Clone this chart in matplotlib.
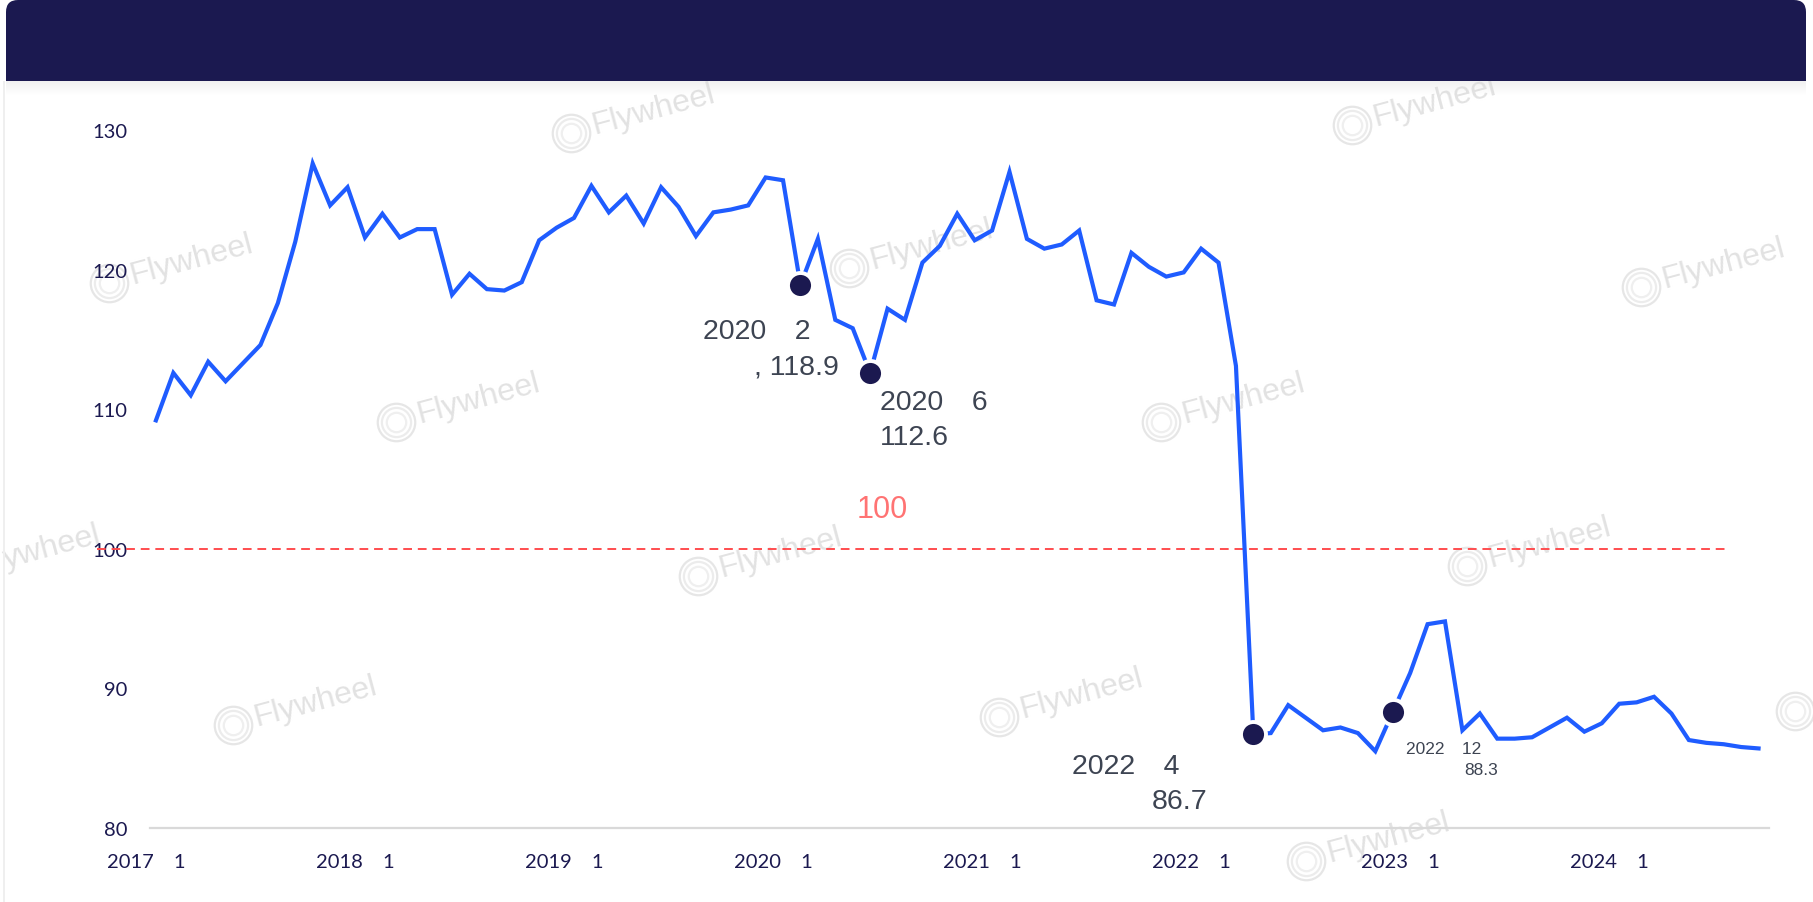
import matplotlib
matplotlib.use("Agg")
from matplotlib import pyplot as plt
from matplotlib.patches import FancyBboxPatch, Rectangle
from matplotlib.transforms import IdentityTransform

# monthly index, 2017-01 .. 2024-09
values = [109.2, 112.6, 111.0, 113.4, 112.0, 113.3, 114.6, 117.6, 122.0, 127.6,
          124.6, 125.9, 122.3, 124.0, 122.3, 122.9, 122.9, 118.2, 119.7, 118.6,
          118.5, 119.1, 122.1, 123.0, 123.7, 126.0, 124.1, 125.3, 123.3, 125.9,
          124.5, 122.4, 124.1, 124.3, 124.6, 126.6, 126.4, 118.9, 122.2, 116.4,
          115.8, 112.6, 117.2, 116.4, 120.5, 121.7, 124.0, 122.1, 122.8, 127.0,
          122.2, 121.5, 121.8, 122.8, 117.8, 117.5, 121.2, 120.2, 119.5, 119.8,
          121.5, 120.5, 113.1, 86.7, 86.8, 88.8, 87.9, 87.0, 87.2, 86.8,
          85.5, 88.3, 91.1, 94.6, 94.8, 87.0, 88.2, 86.4, 86.4, 86.5,
          87.2, 87.9, 86.9, 87.5, 88.9, 89.0, 89.4, 88.2, 86.3, 86.1,
          86.0, 85.8, 85.7]
x = list(range(len(values)))

tick_idx = [0, 12, 24, 36, 48, 60, 72, 84]
tick_labels = ["2017\u30001\u3000", "2018\u30001\u3000", "2019\u30001\u3000",
               "2020\u30001\u3000", "2021\u30001\u3000", "2022\u30001\u3000",
               "2023\u30001\u3000", "2024\u30001\u3000"]
y_ticks = [80, 90, 100, 110, 120, 130]
ref_value = 100

# highlighted months and their two-line labels
mark_idx = [37, 41, 63, 71]
mark_line1 = ["2020\u30002\u3000", "2020\u30006\u3000", "2022\u30004\u3000", "2022\u300012\u3000"]
mark_line2 = [", 118.9", "112.6", "86.7", "88.3"]

NAVY = "#1b1950"
BLUE = "#1f5cff"
GREY_TXT = "#3d4452"
W, H = 1813, 903

plt.rcParams['font.family'] = ['Lato', 'Noto Sans CJK SC', 'DejaVu Sans']

fig = plt.figure(figsize=(W / 100, H / 100), dpi=100)
fig.patch.set_facecolor("white")

# header band with rounded top corners
fig.patches.append(FancyBboxPatch((6, H - 82), 1800, 81, boxstyle="round,pad=0,rounding_size=12",
                                  transform=IdentityTransform(), fc=NAVY, ec="none"))
fig.patches.append(Rectangle((6, H - 82), 1800, 40, transform=IdentityTransform(), fc=NAVY, ec="none"))
# soft shadow under the band
for k in range(14):
    fig.patches.append(Rectangle((6, H - 83 - k), 1800, 1, transform=IdentityTransform(),
                                 fc="#d8d8d8", ec="none", alpha=0.35 * (1 - k / 14)))
fig.patches.append(Rectangle((3, 0), 1.5, H - 82, transform=IdentityTransform(), fc="#efefef", ec="none"))

ax = fig.add_axes([150 / W, (H - 829) / H, (1769 - 150) / W, (829 - 131) / H])
ax.set_facecolor("none")

# watermarks (text, centre in pixels from top-left)
wm_text = ["Flywheel"] * 12 + ["ywheel"]
wm_pos = [(653, 110), (1434, 102), (191, 260), (1723, 264), (478, 399), (931, 245),
          (1243, 399), (780, 553), (1549, 543), (315, 702), (1081, 694),
          (1388, 838), (52, 548)]
for s, (px, py) in zip(wm_text, wm_pos):
    ax.text(px / W, 1 - py / H, s, transform=fig.transFigure, rotation=15,
            ha="center", va="center", fontsize=23, color="#e2e2e2",
            family="Liberation Sans", zorder=0, clip_on=False)
logo_pos = [(px - 82, py + 24) for (px, py) in wm_pos[:12]] + [(1795, 712)]
for (lx, ly) in logo_pos:
    for ms, c in [(27, "#e6e6e6"), (21, "#ececec"), (14, "#efefef")]:
        ax.plot([lx / W], [1 - ly / H], transform=fig.transFigure, marker="o", ms=ms,
                mfc="none", mec=c, mew=1.6, zorder=0, clip_on=False)

ax.plot(x, values, color=BLUE, lw=3.0, zorder=3, solid_joinstyle="miter")

ax.axhline(ref_value, xmin=-0.033, xmax=0.976, color="#ff4d4f", lw=1.4,
           ls=(0, (4.5, 3)), clip_on=False, zorder=2)
ax.annotate(str(ref_value), xy=(0.452, ref_value), xycoords=("axes fraction", "data"),
            xytext=(0, 29), textcoords="offset points", ha="center", va="center",
            fontsize=22, color="#ff7373", family=["Liberation Sans", "Noto Sans CJK SC"])

mark_y = [values[i] for i in mark_idx]
ax.plot(mark_idx, mark_y, ls="none", marker="o", ms=18, mfc=NAVY, mec="white",
        mew=2.8, zorder=4)

label_dx = [28, 7, -33, 76]
label_dy = [(-33, -59), (-21, -46), (-23, -48), (-26, -41)]
label_ha = ["right", "left", "right", "right"]
label_size = [20.5, 20.5, 20.5, 12.5]
for i, idx in enumerate(mark_idx):
    for txt, dy in zip((mark_line1[i], mark_line2[i]), label_dy[i]):
        ax.annotate(txt, xy=(idx, values[idx]), xytext=(label_dx[i], dy),
                    textcoords="offset points", ha=label_ha[i], va="center",
                    fontsize=label_size[i], color=GREY_TXT,
                    family=["Liberation Sans", "Noto Sans CJK SC"], zorder=5)

ax.set_xlim(-0.34, 92.6)
ax.set_ylim(80, 130)
ax.set_xticks(tick_idx)
ax.set_xticklabels(tick_labels)
ax.set_yticks(y_ticks)
ax.tick_params(axis="both", length=0, labelsize=14.5, labelcolor=NAVY)
ax.tick_params(axis="y", pad=16)
ax.tick_params(axis="x", pad=18)
for s in ["top", "right", "left"]:
    ax.spines[s].set_visible(False)
ax.spines["bottom"].set_color("#d9d9d9")
ax.spines["bottom"].set_linewidth(1.6)

fig.savefig("out.png", dpi=100)
